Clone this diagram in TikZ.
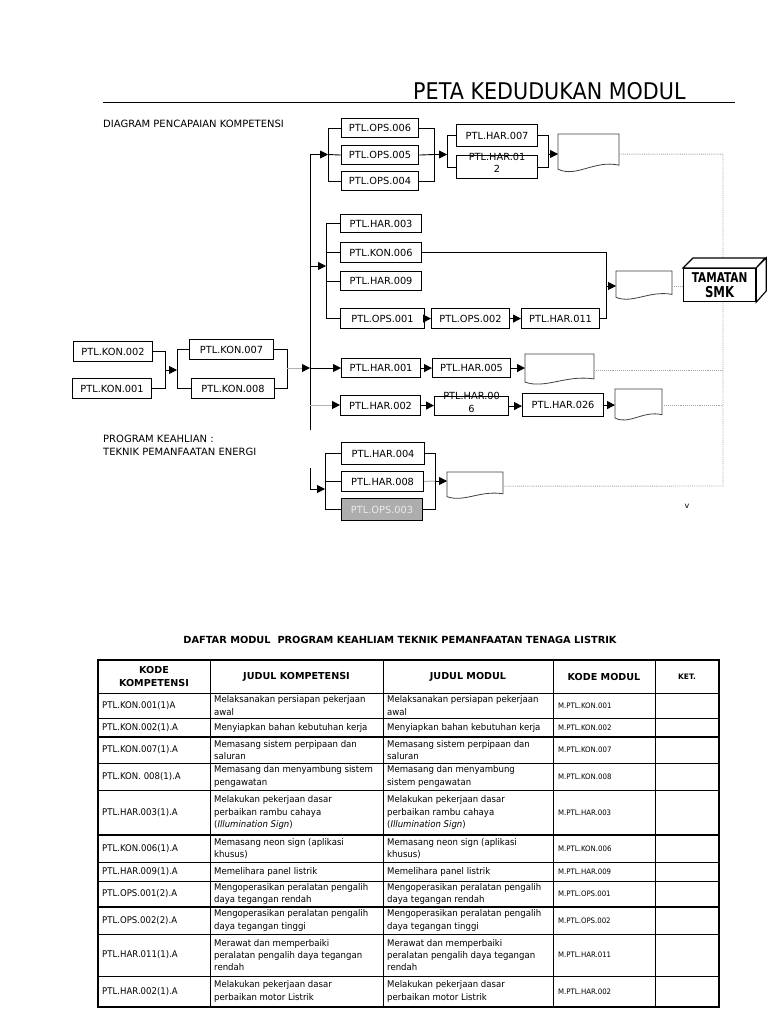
\documentclass[tikz,border=0pt]{standalone}
\usepackage{fontspec}
\setmainfont{DejaVu Sans}
\newfontfamily\tahN[FakeStretch=0.9]{DejaVu Sans}
\newfontfamily\tahT[FakeStretch=0.93]{DejaVu Sans}
\newfontfamily\tamfont[FakeStretch=0.78]{DejaVu Sans}
\usetikzlibrary{arrows.meta,calc}
\tikzset{
  box/.style={draw=black, line width=1.1pt, inner sep=0pt, fill=white, align=center, font=\fontsize{9.8}{11}\selectfont},
  conn/.style={line width=0.9pt, draw=black},
  arr/.style={conn, -{Triangle[length=8pt,width=8pt]}},
  garr/.style={line width=1pt, draw=gray!60, -{Triangle[length=8pt,width=8pt,color=black]}},
  gline/.style={line width=1pt, draw=gray!60},
  docline/.style={draw=black!75, line width=0.8pt, fill=white},
  dots/.style={draw=gray!70, densely dotted, line width=0.9pt},
  tline/.style={line width=0.7pt},
  tthick/.style={line width=1.8pt},
  touter/.style={line width=1.3pt},
  tcell/.style={inner sep=0pt, align=left, font=\tahT\fontsize{9.2}{12.3}\selectfont},
  tsmall/.style={inner sep=0pt, font=\tahT\fontsize{7.5}{9}\selectfont},
  thead/.style={inner sep=0pt, align=center, font=\bfseries\fontsize{9.6}{12.5}\selectfont},
  lbl/.style={inner sep=0pt, anchor=base west, font=\fontsize{10}{10}\selectfont}
}
\newcommand{\bx}[7][]{\pgfmathsetmacro\bw{#5-#3}\pgfmathsetmacro\bh{#6-#4}%
  \node[box,#1,minimum width=\bw pt,minimum height=\bh pt,anchor=north west] (#2) at (#3,#4) {#7};}
\newcommand{\docshape}[5]{\pgfmathsetmacro\dw{#4-#2}\pgfmathsetmacro\dh{#5-#3}%
  \node[inner sep=0pt, minimum width=\dw pt, minimum height=\dh pt, anchor=north west] (#1) at (#2,#3) {};%
  \draw[docline] (#2,#3) -- (#4,#3) -- (#4,{#3+0.78*\dh}) .. controls ({#2+0.6*\dw},{#3+0.64*\dh}) and ({#2+0.3*\dw},{#3+1.1*\dh}) .. (#2,{#3+0.88*\dh}) -- cycle;}
\newcommand{\twoline}[2]{\raisebox{0pt}[0pt][0pt]{\begin{tabular}{@{}c@{}}#1\\[1.5pt]#2\end{tabular}}}
\newcommand{\trow}[7]{\pgfmathsetmacro\ym{(#2+#3)/2}%
  \node[tcell, anchor=west] (k#1) at (102,\ym) {#4};
  \node[tcell, anchor=west] (jk#1) at (214,\ym) {#5};
  \node[tcell, anchor=west] (jm#1) at (387,\ym) {#6};
  \node[tsmall, anchor=west] (km#1) at (558,\ym) {#7};
  \draw[tline] (98,#3) -- (719,#3);}
\begin{document}
\begin{tikzpicture}[x=1pt,y=-1pt]
\useasboundingbox (0,0) rectangle (768,1024);
\fill[white] (0,0) rectangle (768,1024);

% title
\node[inner sep=0pt, anchor=base west, font=\tahN\fontsize{23}{23}\selectfont] (title) at (413,100) {PETA KEDUDUKAN MODUL};
\coordinate (r1) at (103,103); \coordinate (r2) at (735,103);
\draw[line width=1pt] (r1) -- (r2);
\node[lbl] (lab1) at (103,128) {DIAGRAM PENCAPAIAN KOMPETENSI};
\node[lbl] (lab2) at (103,442) {PROGRAM KEAHLIAN :};
\node[lbl] (lab3) at (103,455) {TEKNIK PEMANFAATAN ENERGI};
\node[inner sep=0pt, font=\fontsize{8}{8}\selectfont] (vv) at (687,506) {v};

% documents
\docshape{d1}{558}{134}{619}{174}
\docshape{d2}{616}{271}{672}{301}
\docshape{d3}{525}{354}{594}{386}
\docshape{d4}{615}{389}{662}{422}
\docshape{d5}{447}{472}{503}{500}

% dotted links
\coordinate (dv) at (723,486);
\draw[dots] (d1.east) -| (dv) -- (d5.east);
\draw[dots] (d3.east) -- (d3.east -| dv);
\draw[dots] (d4.east) -- (d4.east -| dv);

% TAMATAN SMK box
\node[draw=black, line width=1.2pt, fill=white, inner sep=0pt, minimum width=72pt, minimum height=33pt, anchor=north west, align=center, font=\tamfont\bfseries\fontsize{13.5}{14.5}\selectfont] (tam) at (683,268) {TAMATAN\\{\fontsize{15}{15}\selectfont SMK}};
\draw[line width=1.1pt, fill=white] (tam.north west) -- ++(10,-10) -- ++(72,0) -- (tam.north east) -- cycle;
\draw[line width=1.1pt, fill=white] (tam.north east) -- ++(10,-10) -- ++(0,33) -- (tam.south east) -- cycle;
\draw[dots] (d2.east) -- (d2.east -| tam.west);

% OPS group
\bx{ops6}{341}{118}{418}{137}{PTL.OPS.006}
\bx{ops5}{341}{145}{418}{164}{PTL.OPS.005}
\bx{ops4}{341}{171}{418}{190}{PTL.OPS.004}
\bx{har7}{456}{124}{537}{146}{PTL.HAR.007}
\bx{har12}{456}{155}{537}{178}{\twoline{PTL.HAR.01}{2}}

% group 2
\bx{har3}{340}{214}{421}{232}{PTL.HAR.003}
\bx{kon6}{340}{242}{421}{262}{PTL.KON.006}
\bx{har9}{340}{271}{421}{290}{PTL.HAR.009}
\bx{ops1}{340}{308}{424}{328}{PTL.OPS.001}
\bx{ops2}{431}{308}{509}{328}{PTL.OPS.002}
\bx{har11}{521}{308}{599}{328}{PTL.HAR.011}

% KON group
\bx{kon2}{73}{341}{152}{361}{PTL.KON.002}
\bx{kon1}{72}{378}{151}{398}{PTL.KON.001}
\bx{kon7}{189}{339}{273}{359}{PTL.KON.007}
\bx{kon8}{191}{378}{274}{398}{PTL.KON.008}

% HAR rows
\bx{har1}{341}{358}{420}{377}{PTL.HAR.001}
\bx{har5}{432}{358}{510}{377}{PTL.HAR.005}
\bx{har2}{340}{395}{420}{415}{PTL.HAR.002}
\bx{har6}{434}{396}{508}{415}{\twoline{PTL.HAR.00}{6}}
\bx{har26}{522}{393}{603}{416}{PTL.HAR.026}

% bottom group
\bx{har4}{341}{442}{424}{464}{PTL.HAR.004}
\bx{har8}{341}{471}{423}{491}{PTL.HAR.008}
\bx[fill=black!32, text=black!8]{ops3}{341}{498}{422}{520}{PTL.OPS.003}

% ---- connectors ----
\coordinate (m1) at (310,154.5);
\coordinate (m2) at (310,430);
\draw[conn] (m1) -- (m2);
\coordinate (bl1) at (328,154.5);
\draw[conn] (ops6.west) -- (ops6.west -| bl1) -- (ops4.west -| bl1) -- (ops4.west);
\draw[conn] (ops5.west) -- (bl1);
\draw[arr] (m1) -- (bl1);
\coordinate (br1) at (434,154.5);
\draw[conn] (ops6.east) -- (ops6.east -| br1) -- (ops4.east -| br1) -- (ops4.east);
\draw[conn] (ops5.east) -- (br1);
\coordinate (bl2) at (447,154.5);
\draw[arr] (br1) -- (bl2);
\draw[conn] (har7.west) -- (har7.west -| bl2) -- (har12.west -| bl2) -- (har12.west);
\coordinate (br2) at (548,154);
\draw[conn] (har7.east) -- (har7.east -| br2) -- (har12.east -| br2) -- (har12.east);
\draw[arr] (br2) -- (br2 -| d1.west);

\coordinate (m3) at (310,266);
\coordinate (bl3) at (326,266);
\draw[arr] (m3) -- (bl3);
\draw[conn] (har3.west) -- (har3.west -| bl3) -- (ops1.west -| bl3) -- (ops1.west);
\draw[conn] (kon6.west) -- (kon6.west -| bl3);
\draw[conn] (har9.west) -- (har9.west -| bl3);
\draw[arr] (ops1.east) -- (ops2.west);
\draw[arr] (ops2.east) -- (har11.west);
\coordinate (br3) at (606,286);
\draw[conn] (kon6.east) -- (kon6.east -| br3) -- (har11.east -| br3) -- (har11.east);
\draw[arr] (br3) -- (br3 -| d2.west);

\coordinate (bk1) at (165,370);
\coordinate (bk2) at (177,370);
\draw[conn] (kon2.east) -- (kon2.east -| bk1) -- (kon1.east -| bk1) -- (kon1.east);
\draw[arr] (bk1) -- (bk2);
\draw[conn] (kon7.west) -- (kon7.west -| bk2) -- (kon8.west -| bk2) -- (kon8.west);
\coordinate (bk3) at (287,368);
\draw[conn] (kon7.east) -- (kon7.east -| bk3) -- (kon8.east -| bk3) -- (kon8.east);
\coordinate (m4) at (310,368);
\draw[garr] (bk3) -- (m4);
\draw[arr] (m4) -- (m4 -| har1.west);
\draw[arr] (har1.east) -- (har5.west);
\draw[arr] (har5.east) -- (har5.east -| d3.west);
\coordinate (m5) at (310,405);
\draw[garr] (m5) -- (m5 -| har2.west);
\draw[arr] (har2.east) -- (har2.east -| har6.west);
\draw[arr] (har6.east) -- (har6.east -| har26.west);
\draw[arr] (har26.east) -- (har26.east -| d4.west);

\coordinate (h1) at (310,468);
\coordinate (h2) at (310,489);
\coordinate (bl5) at (325,489);
\draw[arr] (h1) -- (h2) -- (bl5);
\draw[conn] (har4.west) -- (har4.west -| bl5) -- (ops3.west -| bl5) -- (ops3.west);
\draw[conn] (har8.west) -- (har8.west -| bl5);
\coordinate (br5) at (435,481);
\draw[conn] (har4.east) -- (har4.east -| br5) -- (ops3.east -| br5) -- (ops3.east);
\draw[gline] (har8.east) -- (br5);
\draw[arr] (br5) -- (br5 -| d5.west);

% ---- table ----
\node[inner sep=0pt, font=\bfseries\fontsize{9.8}{10}\selectfont] (ttitle) at (400,640) {DAFTAR MODUL\ \ PROGRAM KEAHLIAM TEKNIK PEMANFAATAN TENAGA LISTRIK};
\node[thead] (h1c) at (154,676.5) {KODE\\KOMPETENSI};
\node[thead] (h2c) at (296.5,676.5) {JUDUL KOMPETENSI};
\node[thead] (h3c) at (468,676.5) {JUDUL MODUL};
\node[thead] (h4c) at (604,676.5) {KODE MODUL};
\node[thead, font=\bfseries\fontsize{7.5}{9}\selectfont] (h5c) at (687,676.5) {KET.};
\draw[tline] (98,693) -- (719,693);

\trow{1}{693}{718}{PTL.KON.001(1)A}{Melaksanakan persiapan pekerjaan\\awal}{Melaksanakan persiapan pekerjaan\\awal}{M.PTL.KON.001}
\trow{2}{718}{737}{PTL.KON.002(1).A}{Menyiapkan bahan kebutuhan kerja}{Menyiapkan bahan kebutuhan kerja}{M.PTL.KON.002}
\trow{3}{737}{763}{PTL.KON.007(1).A}{Memasang sistem perpipaan dan\\saluran}{Memasang sistem perpipaan dan\\saluran}{M.PTL.KON.007}
\trow{4}{763}{790}{PTL.KON. 008(1).A}{Memasang dan menyambung sistem\\pengawatan}{Memasang dan menyambung\\sistem pengawatan}{M.PTL.KON.008}
\trow{5}{790}{835}{PTL.HAR.003(1).A}{Melakukan pekerjaan dasar\\perbaikan rambu cahaya\\(\textit{Illumination Sign})}{Melakukan pekerjaan dasar\\perbaikan rambu cahaya\\(\textit{Illumination Sign})}{M.PTL.HAR.003}
\trow{6}{835}{862}{PTL.KON.006(1).A}{Memasang neon sign (aplikasi\\khusus)}{Memasang neon sign (aplikasi\\khusus)}{M.PTL.KON.006}
\trow{7}{862}{881}{PTL.HAR.009(1).A}{Memelihara panel listrik}{Memelihara panel listrik}{M.PTL.HAR.009}
\trow{8}{881}{907}{PTL.OPS.001(2).A}{Mengoperasikan peralatan pengalih\\daya tegangan rendah}{Mengoperasikan peralatan pengalih\\daya tegangan rendah}{M.PTL.OPS.001}
\trow{9}{907}{934}{PTL.OPS.002(2).A}{Mengoperasikan peralatan pengalih\\daya tegangan tinggi}{Mengoperasikan peralatan pengalih\\daya tegangan tinggi}{M.PTL.OPS.002}
\trow{10}{934}{976}{PTL.HAR.011(1).A}{Merawat dan memperbaiki\\peralatan pengalih daya tegangan\\rendah}{Merawat dan memperbaiki\\peralatan pengalih daya tegangan\\rendah}{M.PTL.HAR.011}
\trow{11}{976}{1007}{PTL.HAR.002(1).A}{Melakukan pekerjaan dasar\\perbaikan motor Listrik}{Melakukan pekerjaan dasar\\perbaikan motor Listrik}{M.PTL.HAR.002}

\draw[tthick] (98,737) -- (719,737);
\draw[tthick] (98,835) -- (719,835);
\draw[tthick] (98,907) -- (719,907);
\foreach \cx in {210,383,553,655} { \draw[tline] (\cx,660) -- (\cx,1007); }
\draw[touter] (98,660) rectangle (719,1007);
\end{tikzpicture}
\end{document}
